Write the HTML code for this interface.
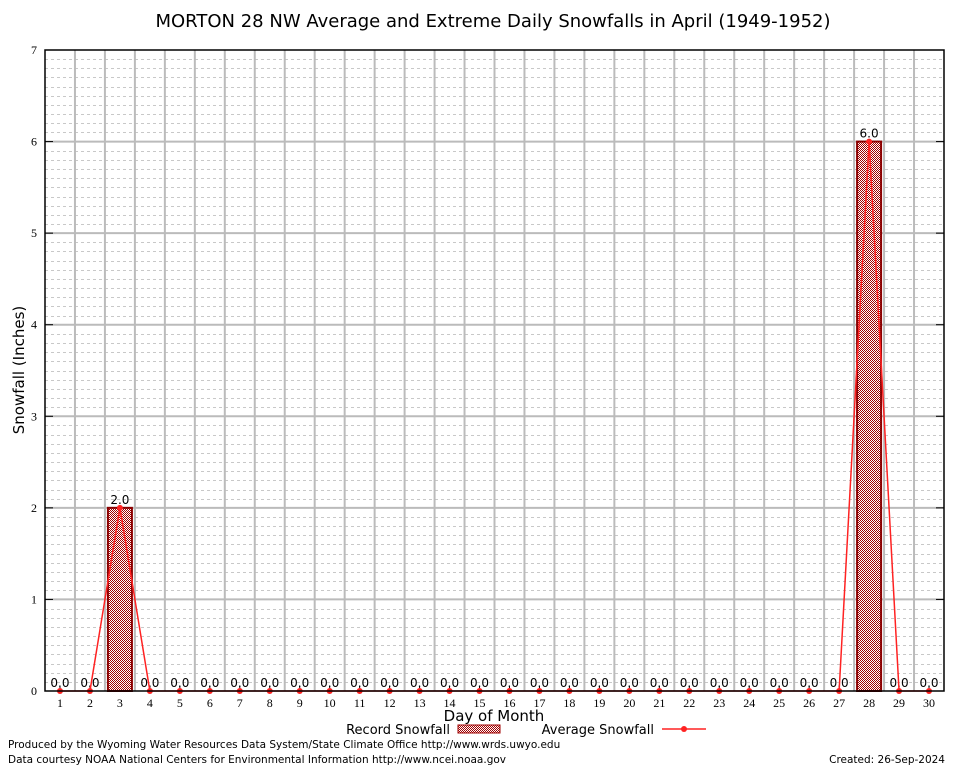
<!DOCTYPE html>
<html><head><meta charset="utf-8"><style>
body{margin:0;background:#fff;}
svg{display:block;font-family:"DejaVu Sans","Liberation Sans",sans-serif;}
</style></head><body>
<svg id="c" width="954" height="768">
<defs>
<pattern id="hatch" width="2" height="2" patternUnits="userSpaceOnUse">
<rect width="2" height="2" fill="#fff"/><rect width="1" height="1" fill="#a00000"/><rect x="1" y="1" width="1" height="1" fill="#a00000"/>
</pattern>
</defs>
<text x="493" y="27" font-size="18" text-anchor="middle">MORTON 28 NW Average and Extreme Daily Snowfalls in April (1949-1952)</text>
<text transform="translate(24,370) rotate(-90)" font-size="15" text-anchor="middle">Snowfall (Inches)</text>
<text x="494" y="721" font-size="15" text-anchor="middle">Day of Month</text>
<g>
<text x="450" y="734" font-size="13" text-anchor="end">Record Snowfall</text>
<rect x="458" y="725" width="42" height="8" fill="url(#hatch)" stroke="#a00000"/>
<text x="654" y="734" font-size="13" text-anchor="end">Average Snowfall</text>
<line x1="662" y1="729" x2="706" y2="729" stroke="#f22" stroke-width="1.5"/>
<circle cx="684" cy="729" r="3" fill="#f22"/>
</g>
<text x="8" y="748" font-size="10.5">Produced by the Wyoming Water Resources Data System/State Climate Office http://www.wrds.uwyo.edu</text>
<text x="8" y="763" font-size="10.5">Data courtesy NOAA National Centers for Environmental Information http://www.ncei.noaa.gov</text>
<text x="945" y="763" font-size="10.5" text-anchor="end">Created: 26-Sep-2024</text>
<g id="plot"></g>
</svg>
<script>
const days=[1,2,3,4,5,6,7,8,9,10,11,12,13,14,15,16,17,18,19,20,21,22,23,24,25,26,27,28,29,30];
const recordVals=[0,0,2,0,0,0,0,0,0,0,0,0,0,0,0,0,0,0,0,0,0,0,0,0,0,0,0,6,0,0];
const avgVals=[0,0,2,0,0,0,0,0,0,0,0,0,0,0,0,0,0,0,0,0,0,0,0,0,0,0,0,6,0,0];
const yTicks=[0,1,2,3,4,5,6,7];
const NS='http://www.w3.org/2000/svg';
const L=45,R=944,T=50,B=691;
const xs=d=>L+(d-0.5)*(R-L)/30;
const ys=v=>B-v*(B-T)/7;
const g=document.getElementById('plot');
function mk(t,a,p){const e=document.createElementNS(NS,t);for(const k in a)e.setAttribute(k,a[k]);(p||g).appendChild(e);return e;}
for(let i=1;i<70;i++){if(i%10===0)continue;const y=Math.round(ys(i/10))+0.5;
const e=mk('line',{x1:L,x2:R,y1:y,y2:y,stroke:'#c8c8c8','stroke-dasharray':'3,3'});
}
yTicks.forEach(v=>{const y=ys(v);
if(v>0&&v<7){const e=mk('line',{x1:L,x2:R,y1:y,y2:y,stroke:'#bbb','stroke-width':2});
}
const t=mk('text',{x:L-8,y:y+4,'font-size':12,'text-anchor':'end','font-family':'Liberation Serif,serif'});t.textContent=v;

mk('line',{x1:L,x2:L+8,y1:y,y2:y,stroke:'#000'});mk('line',{x1:R-8,x2:R,y1:y,y2:y,stroke:'#000'});});
for(let d=1;d<30;d++){const x=xs(d+0.5);
const e=mk('line',{x1:x,x2:x,y1:T,y2:B,stroke:'#bbb','stroke-width':2});
}
days.forEach((d,i)=>{const x=xs(d);
const t=mk('text',{x:x,y:B+16,'font-size':12,'text-anchor':'middle','font-family':'Liberation Serif,serif'});t.textContent=d;

mk('line',{x1:x,x2:x,y1:B,y2:B-5,stroke:'#000'});
const v=recordVals[i];
if(v>0){const b=mk('rect',{x:x-12,y:ys(v),width:24,height:B-ys(v),fill:'url(#hatch)',stroke:'#8b0000','stroke-width':2});
}
const lb=mk('text',{x:x,y:ys(v)-4,'font-size':12,'text-anchor':'middle'});lb.textContent=v.toFixed(1);
});
const pts=days.map((d,i)=>xs(d)+','+ys(avgVals[i])).join(' ');
const pl=mk('polyline',{points:pts,fill:'none',stroke:'#f22','stroke-width':1.5});

days.forEach((d,i)=>{const c=mk('circle',{cx:xs(d),cy:ys(avgVals[i]),r:3,fill:'#f22'});
});
const fr=mk('rect',{x:L,y:T,width:R-L,height:B-T,fill:'none',stroke:'#000','stroke-width':1.5});

</script>
</body></html>
